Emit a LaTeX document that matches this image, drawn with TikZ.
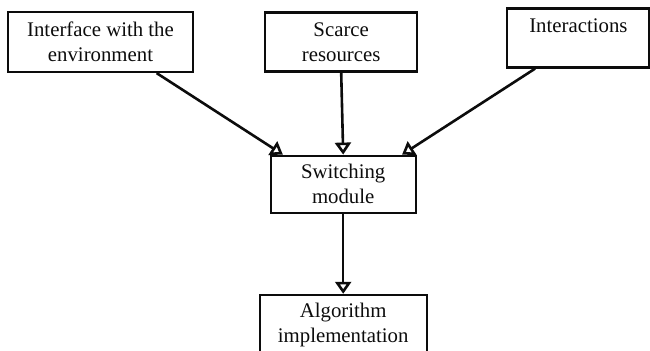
\documentclass[tikz,border=0pt]{standalone}
\usepackage{fontspec}
\setmainfont{Liberation Serif}
\usepackage{tikz}
\usetikzlibrary{arrows.meta,positioning,calc}
\definecolor{ink}{RGB}{12,12,12}

\begin{document}
\begin{tikzpicture}[font=\fontsize{10.4}{12.5}\selectfont,>={Triangle[open,length=6pt,width=8pt]},
 b/.style={draw=ink,line width=1.1pt,align=center,inner sep=2pt,text=ink},
 l/.style={draw=ink,line width=1.3pt,->}]
 \useasboundingbox (0,0) rectangle (325pt,-175.5pt);
 \node[b,minimum width=92.5pt,minimum height=30pt] (iface) at (50.25pt,-21pt) {Interface with the\\environment};
 \node[b,right=35pt of iface,minimum width=76pt,minimum height=29.5pt](scarce){Scarce\\resources};
 \node[b,right=44pt of scarce,yshift=2pt,minimum width=71pt,minimum height=29.5pt](inter){Interactions\\\mbox{}};
 \node[b,below=41pt of scarce,xshift=1pt,minimum width=72.5pt,minimum height=28.5pt](sw){Switching\\module};
 % bottom edge runs off the page
 \node[b,below=40pt of sw,minimum width=83.5pt,minimum height=30.5pt](algo){Algorithm\\implementation};
 \draw[l] ($(iface.south)!0.6!(iface.south east)$) -- ($(sw.north)!0.82!(sw.north west)$);
 \draw[l] (scarce.south) -- (sw.north);
 \draw[l] ($(inter.south)!0.6!(inter.south west)$) -- ($(sw.north)!0.8!(sw.north east)$);
 \draw[l] (sw.south) -- (algo.north);
\end{tikzpicture}
\end{document}
